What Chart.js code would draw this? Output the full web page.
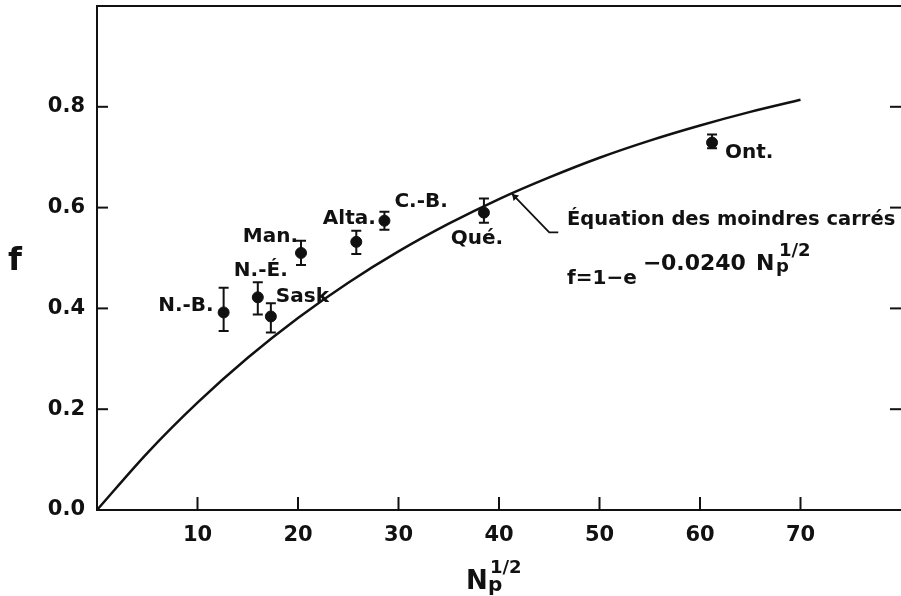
<!DOCTYPE html>
<html>
<head>
<meta charset="utf-8">
<script src="https://cdn.jsdelivr.net/npm/chart.js@4/dist/chart.umd.min.js"></script>
<style>
  html, body { margin: 0; padding: 0; background: #ffffff; }
  #wrap { width: 901px; height: 596px; }
</style>
</head>
<body>
<div id="wrap"><canvas id="c" width="901" height="596"></canvas></div>
<script>
// ---- data ----
const provinces = ['N.-B.', 'N.-É.', 'Sask', 'Man.', 'Alta.', 'C.-B.', 'Qué.', 'Ont.'];
const sqrtNp    = [12.6, 16.0, 17.3, 20.3, 25.8, 28.6, 38.5, 61.2];
const fValues   = [0.392, 0.422, 0.384, 0.510, 0.532, 0.574, 0.590, 0.729];
const fLow      = [0.355, 0.388, 0.352, 0.486, 0.508, 0.556, 0.570, 0.718];
const fHigh     = [0.441, 0.452, 0.410, 0.534, 0.554, 0.592, 0.618, 0.745];

// least-squares curve, points
const curveX = [0, 5, 10, 15, 20, 25, 30, 35, 40, 45, 50, 55, 60, 65, 70];
const curveY = [0.000, 0.113, 0.213, 0.302, 0.381, 0.451, 0.513, 0.568, 0.617, 0.660, 0.699, 0.733, 0.763, 0.790, 0.814];

const xTicks = [10, 20, 30, 40, 50, 60, 70];
const yTicks = [0.0, 0.2, 0.4, 0.6, 0.8];

const curveLabel = 'Équation des moindres carrés';

// ---- styling / placement ----
const FONT = "'DejaVu Sans', sans-serif";
const INK = '#111111';

// label placement relative to each point (pixels)
const labelPlace = {
  'N.-B.': { dx: -10, dy: -7,  align: 'right'  },
  'N.-É.': { dx: 3,   dy: -27, align: 'center' },
  'Sask':  { dx: 5,   dy: -20, align: 'left'   },
  'Man.':  { dx: -3,  dy: -16, align: 'right'  },
  'Alta.': { dx: -7,  dy: -23, align: 'center' },
  'C.-B.': { dx: 10,  dy: -19, align: 'left'   },
  'Qué.':  { dx: -7,  dy: 26,  align: 'center' },
  'Ont.':  { dx: 13,  dy: 10,  align: 'left'   }
};

const pointData = sqrtNp.map((x, i) => ({ x: x, y: fValues[i] }));
const curveData = curveX.map((x, i) => ({ x: x, y: curveY[i] }));

const decorPlugin = {
  id: 'decor',
  afterDatasetsDraw(chart) {
    const ctx = chart.ctx;
    const xs = chart.scales.x, ys = chart.scales.y;
    const area = chart.chartArea;
    ctx.save();
    ctx.strokeStyle = INK;
    ctx.fillStyle = INK;

    // top frame line
    ctx.lineWidth = 2;
    ctx.beginPath();
    ctx.moveTo(area.left, area.top);
    ctx.lineTo(area.right, area.top);
    ctx.stroke();

    // inward ticks
    ctx.lineWidth = 2;
    xTicks.forEach(v => {
      const px = xs.getPixelForValue(v);
      ctx.beginPath();
      ctx.moveTo(px, area.bottom);
      ctx.lineTo(px, area.bottom - 13);
      ctx.stroke();
    });
    yTicks.forEach(v => {
      if (v === 0) return;
      const py = ys.getPixelForValue(v);
      ctx.beginPath();
      ctx.moveTo(area.left, py);
      ctx.lineTo(area.left + 11, py);
      ctx.stroke();
      ctx.beginPath();
      ctx.moveTo(area.right - 11, py);
      ctx.lineTo(area.right, py);
      ctx.stroke();
    });

    // error bars
    ctx.lineWidth = 2;
    sqrtNp.forEach((x, i) => {
      const px = xs.getPixelForValue(x);
      const pLo = ys.getPixelForValue(fLow[i]);
      const pHi = ys.getPixelForValue(fHigh[i]);
      ctx.beginPath();
      ctx.moveTo(px, pLo); ctx.lineTo(px, pHi);
      ctx.moveTo(px - 5, pLo); ctx.lineTo(px + 5, pLo);
      ctx.moveTo(px - 5, pHi); ctx.lineTo(px + 5, pHi);
      ctx.stroke();
    });

    // point labels
    ctx.font = 'bold 20px ' + FONT;
    ctx.textBaseline = 'middle';
    provinces.forEach((name, i) => {
      const p = labelPlace[name];
      const px = xs.getPixelForValue(sqrtNp[i]) + p.dx;
      const py = ys.getPixelForValue(fValues[i]) + p.dy;
      ctx.textAlign = p.align;
      ctx.fillText(name, px, py);
    });

    // pointer from curve to its label
    const sx = xs.getPixelForValue(41.3), sy = ys.getPixelForValue(0.627);
    const cx = xs.getPixelForValue(45.0), cy = ys.getPixelForValue(0.551);
    ctx.lineWidth = 1.8;
    ctx.beginPath();
    ctx.moveTo(sx, sy);
    ctx.lineTo(cx, cy);
    ctx.lineTo(cx + 9, cy);
    ctx.stroke();
    ctx.beginPath();
    ctx.moveTo(sx, sy);
    ctx.lineTo(sx + 1.5, sy + 7);
    ctx.lineTo(sx + 7, sy + 1.5);
    ctx.closePath();
    ctx.fill();

    // curve label and equation
    ctx.textAlign = 'left';
    ctx.textBaseline = 'alphabetic';
    ctx.font = 'bold 19.5px ' + FONT;
    ctx.fillText(curveLabel, 567, 225);

    // f = 1 − e^{−0.0240 Np^{1/2}}
    ctx.font = 'bold 20px ' + FONT;
    ctx.fillText('f=1−e', 567, 284);
    ctx.font = 'bold 22px ' + FONT;
    ctx.fillText('−', 643, 270);
    ctx.fillText('0.0240', 661, 270);
    ctx.fillText('N', 756, 270);
    ctx.font = 'bold 18px ' + FONT;
    ctx.fillText('p', 776, 272);
    ctx.fillText('1/2', 779, 256);

    // axis titles
    ctx.font = 'bold 32px ' + FONT;
    ctx.textAlign = 'center';
    ctx.fillText('f', 15, 270);

    ctx.textAlign = 'left';
    ctx.font = 'bold 26px ' + FONT;
    ctx.fillText('N', 466, 589);
    ctx.font = 'bold 20px ' + FONT;
    ctx.fillText('p', 488, 591);
    ctx.font = 'bold 18px ' + FONT;
    ctx.fillText('1/2', 490, 573);

    ctx.restore();
  }
};

new Chart(document.getElementById('c'), {
  type: 'scatter',
  data: {
    datasets: [
      {
        type: 'line',
        label: 'curve',
        data: curveData,
        borderColor: INK,
        borderWidth: 2.5,
        pointRadius: 0,
        fill: false,
        clip: false,
        cubicInterpolationMode: 'monotone'
      },
      {
        label: 'provinces',
        data: pointData,
        backgroundColor: INK,
        borderColor: INK,
        pointRadius: 5.5,
        pointHoverRadius: 5.5,
        clip: false
      }
    ]
  },
  plugins: [decorPlugin],
  options: {
    responsive: false,
    animation: false,
    events: [],
    layout: { autoPadding: false, padding: { top: 6, right: 0, left: 0, bottom: 0 } },
    plugins: {
      legend: { display: false },
      tooltip: { enabled: false },
      title: { display: false }
    },
    scales: {
      x: {
        type: 'linear',
        min: 0,
        max: 80,
        afterBuildTicks(scale) { scale.ticks = xTicks.map(v => ({ value: v })); },
        afterFit(scale) {
          scale.height = 86;
          scale.paddingLeft = 0;
          scale.paddingRight = 0;
        },
        border: { display: true, color: INK, width: 2 },
        grid: { display: false, drawTicks: false },
        ticks: {
          padding: 13,
          color: INK,
          font: { family: FONT, size: 21, weight: 'bold' },
          callback: v => String(v)
        }
      },
      y: {
        type: 'linear',
        min: 0,
        max: 1.0,
        afterBuildTicks(scale) { scale.ticks = yTicks.map(v => ({ value: v })); },
        afterFit(scale) {
          scale.width = 97;
          scale.paddingTop = 0;
          scale.paddingBottom = 0;
        },
        border: { display: true, color: INK, width: 2 },
        grid: { display: false, drawTicks: false },
        ticks: {
          padding: 12,
          color: INK,
          font: { family: FONT, size: 21, weight: 'bold' },
          callback: v => Number(v).toFixed(1)
        }
      }
    }
  }
});
</script>
</body>
</html>
